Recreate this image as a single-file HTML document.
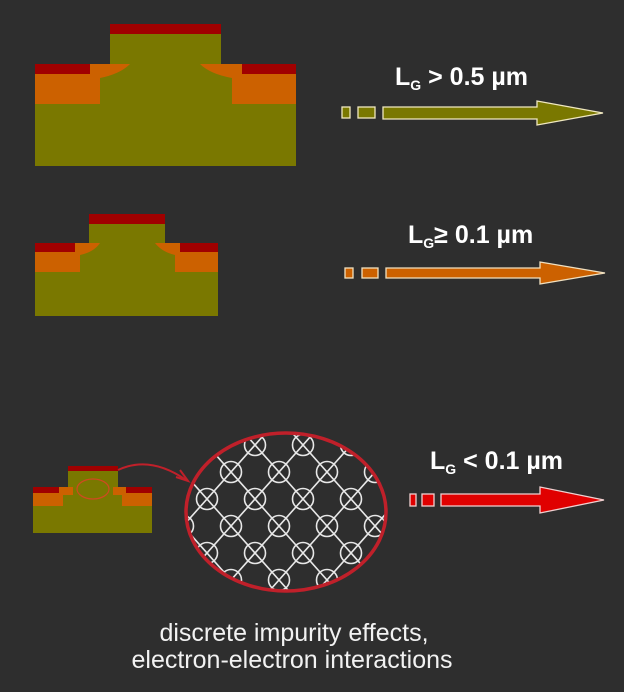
<!DOCTYPE html>
<html><head><meta charset="utf-8"><style>
html,body{margin:0;padding:0;background:#2e2e2e;}
svg{display:block;}
text{font-family:"Liberation Sans",Arial,sans-serif;}
</style></head><body>
<svg id="s" width="624" height="692" viewBox="0 0 624 692">
<rect width="624" height="692" fill="#2e2e2e"/>
<defs><clipPath id="ec"><ellipse cx="286" cy="512" rx="100" ry="79"/></clipPath></defs>

<g>
<rect x="35" y="64" width="261" height="102" fill="#7a7800"/>
<rect x="110" y="34" width="111" height="32" fill="#7a7800"/>
<rect x="35" y="74" width="65" height="30" fill="#cc6100"/>
<rect x="232" y="74" width="64" height="30" fill="#cc6100"/>
<path d="M90 64 L130 64 Q120 74 100 78 L90 78Z" fill="#cc6100"/>
<path d="M242 64 L200 64 Q210 74 232 78 L242 78Z" fill="#cc6100"/>
<rect x="110" y="24" width="111" height="10" fill="#a00000"/>
<rect x="35" y="64" width="55" height="10" fill="#a00000"/>
<rect x="242" y="64" width="54" height="10" fill="#a00000"/>
</g>

<g>
<rect x="35" y="243" width="183" height="73" fill="#7a7800"/>
<rect x="89" y="224" width="76" height="20" fill="#7a7800"/>
<rect x="35" y="252" width="45" height="20" fill="#cc6100"/>
<rect x="175" y="252" width="43" height="20" fill="#cc6100"/>
<path d="M75 243 L100 243 Q94 252 80 255 L75 255Z" fill="#cc6100"/>
<path d="M180 243 L155 243 Q162 252 175 255 L180 255Z" fill="#cc6100"/>
<rect x="89" y="214" width="76" height="10" fill="#a00000"/>
<rect x="35" y="243" width="40" height="9" fill="#a00000"/>
<rect x="180" y="243" width="38" height="9" fill="#a00000"/>
</g>

<g>
<rect x="33" y="487" width="119" height="46" fill="#7a7800"/>
<rect x="68" y="471" width="50" height="17" fill="#7a7800"/>
<rect x="33" y="493" width="30" height="13" fill="#cc6100"/>
<rect x="122" y="493" width="30" height="13" fill="#cc6100"/>
<rect x="59" y="487" width="14" height="8" fill="#cc6100"/>
<rect x="113" y="487" width="13" height="8" fill="#cc6100"/>
<rect x="68" y="466" width="50" height="5" fill="#a00000"/>
<rect x="33" y="487" width="26" height="6" fill="#a00000"/>
<rect x="126" y="487" width="26" height="6" fill="#a00000"/>
<ellipse cx="93" cy="489" rx="16" ry="10" fill="none" stroke="#d04a20" stroke-width="1.2"/>
</g>
<path d="M118 470 Q150 455 186 480" fill="none" stroke="#c0202a" stroke-width="2"/>
<path d="M176 477 L188 481 L180 470" fill="none" stroke="#c0202a" stroke-width="2"/>

<g id="lattice" clip-path="url(#ec)" stroke="#e8e8e8" stroke-width="1.6" fill="none"></g>
<ellipse cx="286" cy="512" rx="100" ry="79" fill="none" stroke="#c0202a" stroke-width="3.5"/>

<g stroke="#f0e8c0" stroke-width="1.3">
<rect x="342" y="107" width="8" height="11" fill="#7a7800"/>
<rect x="358" y="107" width="17" height="11" fill="#7a7800"/>
<path d="M383 107 L537 107 L537 101 L603 113 L537 125 L537 119 L383 119Z" fill="#7a7800"/>
</g>
<g stroke="#f0e0c0" stroke-width="1.3">
<rect x="345" y="268" width="8" height="10" fill="#cc6100"/>
<rect x="362" y="268" width="16" height="10" fill="#cc6100"/>
<path d="M386 268 L540 268 L540 262 L605 273 L540 284 L540 278 L386 278Z" fill="#cc6100"/>
</g>
<g stroke="#f0d0d0" stroke-width="1.3">
<rect x="410" y="494" width="6" height="12" fill="#e00000"/>
<rect x="422" y="494" width="12" height="12" fill="#e00000"/>
<path d="M441 494 L540 494 L540 487 L604 500 L540 513 L540 506 L441 506Z" fill="#e00000"/>
</g>

<text x="395" y="85" font-size="25" font-weight="bold" fill="#fff">L<tspan font-size="14" dy="5">G</tspan><tspan dy="-5"> &gt; 0.5 µm</tspan></text>
<text x="408" y="243" font-size="25" font-weight="bold" fill="#fff">L<tspan font-size="14" dy="5">G</tspan><tspan dy="-5">≥ 0.1 µm</tspan></text>
<text x="430" y="469" font-size="25" font-weight="bold" fill="#fff">L<tspan font-size="14" dy="5">G</tspan><tspan dy="-5"> &lt; 0.1 µm</tspan></text>

<text x="294" y="641" font-size="25" fill="#f2f2f2" text-anchor="middle">discrete impurity effects,</text>
<text x="292" y="668" font-size="25" fill="#f2f2f2" text-anchor="middle">electron-electron interactions</text>
</svg>
<script>
var g=document.getElementById('lattice');
var NS='http://www.w3.org/2000/svg';
var dx=24,dy=27,x0=255,y0=445;
function add(tag,a){var e=document.createElementNS(NS,tag);for(var k in a)e.setAttribute(k,a[k]);g.appendChild(e);return e;}
for(var i=-12;i<=12;i++){
  var x=x0+i*2*dx;
  add('line',{x1:x-dx*8,y1:y0-dy*8,x2:x+dx*8,y2:y0+dy*8});
  add('line',{x1:x+dx*8,y1:y0-dy*8,x2:x-dx*8,y2:y0+dy*8});
}
for(var r=-1;r<7;r++){for(var c=-4;c<6;c++){
  var cx=x0+c*2*dx+(r%2?dx:0), cy=y0+r*dy;
  var el=add('circle',{cx:cx,cy:cy,r:10.5});
  
  
}}
</script>
</body></html>
